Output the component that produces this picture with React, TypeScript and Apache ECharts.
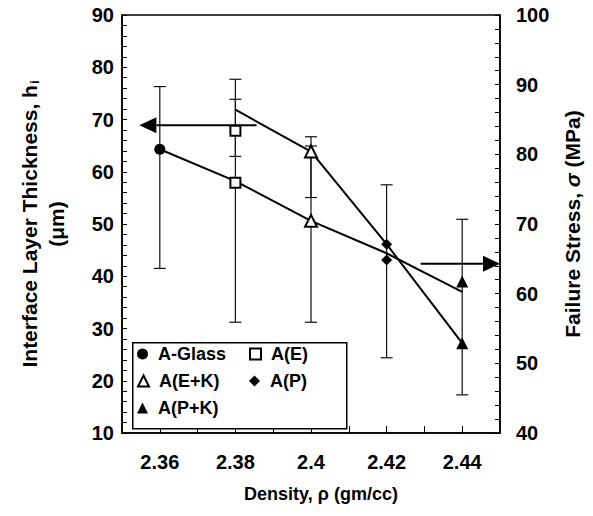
import { useEffect, useRef } from 'react';
import * as echarts from 'echarts';

// ---- data ----
const densities = [2.36, 2.38, 2.4, 2.42, 2.44];
const materials = ['A-Glass', 'A(E)', 'A(E+K)', 'A(P)', 'A(P+K)'];
const materialSymbols = ['circle', 'emptyRect', 'emptyTriangle', 'diamond', 'triangle'];
const thicknessPoints = [64.3, 57.9, 50.6, 43.1, 39.0];
const stressPoints: (number | null)[] = [null, 83.4, 80.4, 67.1, 52.9];

const thicknessLineX = [2.36, 2.38, 2.4, 2.42, 2.44];
const thicknessLineY = [64.3, 58.2, 50.6, 44.4, 37.0];
const stressLineX = [2.38, 2.4, 2.42, 2.44];
const stressLineY = [86.4, 80.4, 67.1, 52.9];

const thicknessErrX = [2.36, 2.38, 2.4, 2.42, 2.44];
const thicknessErrLow = [41.5, 31.2, 31.2, 24.4, 17.3];
const thicknessErrHigh = [76.3, 77.7, 66.7, 57.5, 50.9];
const stressErrX = [2.38, 2.4];
const stressErrLow = [79.7, 73.8];
const stressErrHigh = [87.9, 81.2];

const xTickValues = [2.36, 2.37, 2.38, 2.39, 2.4, 2.41, 2.42, 2.43, 2.44];
const xLabelValues = [2.36, 2.38, 2.4, 2.42, 2.44];

const thicknessArrow = [2.3856, 2.3546, 68.9]; // from x, tip x, y (left axis)
const stressArrow = [2.429, 2.45, 64.3]; // from x, tip x, y (right axis)

const FONT = 'Liberation Sans, Arial, Helvetica, sans-serif';

export default function App() {
  const ref = useRef<HTMLDivElement>(null);
  useEffect(() => {
    document.body.style.margin = '0';
    const chart = echarts.init(ref.current!, null, { renderer: 'svg' });

    const errRender = (params: any, api: any) => {
      const x = api.value(0);
      const lo = api.value(1);
      const hi = api.value(2);
      const t = api.coord([x, hi]);
      const b = api.coord([x, lo]);
      const w = 6;
      const st = { stroke: '#111', lineWidth: 1.2 };
      return {
        type: 'group',
        children: [
          { type: 'line', shape: { x1: t[0], y1: t[1], x2: b[0], y2: b[1] }, style: st },
          { type: 'line', shape: { x1: t[0] - w, y1: t[1], x2: t[0] + w, y2: t[1] }, style: st },
          { type: 'line', shape: { x1: b[0] - w, y1: b[1], x2: b[0] + w, y2: b[1] }, style: st },
        ],
      };
    };

    const arrowRender = (params: any, api: any) => {
      const from = api.value(0);
      const to = api.value(1);
      const y = api.value(2);
      const s = api.coord([from, y]);
      const tip = api.coord([to, y]);
      const dir = tip[0] > s[0] ? 1 : -1;
      const headLen = 17;
      const half = 8;
      const base = tip[0] - dir * headLen;
      return {
        type: 'group',
        children: [
          { type: 'line', shape: { x1: s[0], y1: s[1], x2: base, y2: s[1] }, style: { stroke: '#000', lineWidth: 2 } },
          {
            type: 'polygon',
            shape: { points: [[tip[0], tip[1]], [base, tip[1] - half], [base, tip[1] + half]] },
            style: { fill: '#000' },
          },
        ],
      };
    };

    const markerSeries: any[] = [];
    materials.forEach((m, i) => {
      const sym = materialSymbols[i];
      const size = sym === 'emptyRect' ? 10 : sym === 'triangle' || sym === 'emptyTriangle' ? 12 : 11;
      const common = {
        type: 'scatter',
        name: m,
        symbol: sym,
        symbolSize: size,
        itemStyle: { color: '#000', borderColor: '#000', borderWidth: sym.startsWith('empty') ? 1.3 : 0, opacity: 1 },
        z: 5,
      };
      markerSeries.push({ ...common, yAxisIndex: 0, data: [[densities[i], thicknessPoints[i]]] });
      if (stressPoints[i] != null) {
        markerSeries.push({ ...common, yAxisIndex: 1, data: [[densities[i], stressPoints[i]]] });
      }
    });

    const legendPos = [
      [137, 345],
      [249, 345],
      [137, 372],
      [249, 372],
      [137, 399],
    ];

    const tickLabel = { fontSize: 20, fontWeight: 'bold', color: '#000', fontFamily: FONT };
    const axisLineStyle = { color: '#000', width: 1.5 };

    chart.setOption({
      animation: false,
      grid: { left: 122, right: 93, top: 15, bottom: 83, show: true, borderColor: '#000', borderWidth: 1.5 },
      xAxis: {
        type: 'value',
        min: 2.35,
        max: 2.45,
        axisLine: { show: true, lineStyle: axisLineStyle },
        axisTick: { show: true, inside: true, length: 7, customValues: xTickValues, lineStyle: { color: '#000' } },
        axisLabel: { customValues: xLabelValues, margin: 19, ...tickLabel },
        splitLine: { show: false },
        name: 'Density, ρ (gm/cc)',
        nameLocation: 'middle',
        nameGap: 52,
        nameTextStyle: { fontSize: 18, fontWeight: 'bold', color: '#000', fontFamily: FONT, padding: [0, 0, 0, 20] },
      },
      yAxis: [
        {
          type: 'value',
          position: 'left',
          min: 10,
          max: 90,
          interval: 10,
          axisLine: { show: true, lineStyle: axisLineStyle },
          axisTick: { show: true, inside: true, length: 5, lineStyle: { color: '#000' } },
          minorTick: { show: true, splitNumber: 5, length: 5, lineStyle: { color: '#000' } },
          splitLine: { show: false },
          axisLabel: { margin: 8, ...tickLabel },
          name: '{a|Interface Layer Thickness, h}{s|i}\n{a|(μm)}',
          nameLocation: 'middle',
          nameRotate: 90,
          nameGap: 52,
          nameTextStyle: {
            rich: {
              a: { fontSize: 21, fontWeight: 'bold', color: '#000', fontFamily: FONT, lineHeight: 27 },
              s: { fontSize: 13, fontWeight: 'bold', color: '#000', fontFamily: FONT, lineHeight: 27, padding: [9, 0, 0, 1] },
            },
          },
        },
        {
          type: 'value',
          position: 'right',
          min: 40,
          max: 100,
          interval: 10,
          axisLine: { show: true, lineStyle: axisLineStyle },
          axisTick: { show: true, inside: true, length: 5, lineStyle: { color: '#000' } },
          minorTick: { show: true, splitNumber: 5, length: 5, lineStyle: { color: '#000' } },
          splitLine: { show: false },
          axisLabel: { margin: 16, ...tickLabel },
          name: '{a|Failure Stress, }{i|σ}{a| (MPa)}',
          nameLocation: 'middle',
          nameRotate: 90,
          nameGap: 62,
          nameTextStyle: {
            rich: {
              a: { fontSize: 21, fontWeight: 'bold', color: '#000', fontFamily: FONT },
              i: { fontSize: 21, fontWeight: 'bold', fontStyle: 'italic', color: '#000', fontFamily: FONT },
            },
          },
        },
      ],
      legend: materials.map((m, i) => ({
        data: [m],
        left: legendPos[i][0],
        top: legendPos[i][1],
        orient: 'horizontal',
        itemWidth: 11,
        itemHeight: 11,
        itemGap: 0,
        padding: 0,
        selectedMode: false,
        z: 10,
        textStyle: { fontSize: 18, fontWeight: 'bold', color: '#000', fontFamily: FONT, padding: [0, 0, 0, 5] },
      })),
      graphic: [
        {
          type: 'rect',
          left: 132,
          top: 342,
          z: 8,
          shape: { width: 214, height: 86 },
          style: { fill: '#fff', stroke: '#000', lineWidth: 1.5 },
        },
      ],
      series: [
        {
          type: 'line',
          name: 'thicknessTrend',
          yAxisIndex: 0,
          data: thicknessLineX.map((x, i) => [x, thicknessLineY[i]]),
          symbol: 'none',
          lineStyle: { color: '#000', width: 2 },
          z: 3,
        },
        {
          type: 'line',
          name: 'stressTrend',
          yAxisIndex: 1,
          data: stressLineX.map((x, i) => [x, stressLineY[i]]),
          symbol: 'none',
          lineStyle: { color: '#000', width: 2 },
          z: 3,
        },
        {
          type: 'custom',
          name: 'thicknessErr',
          yAxisIndex: 0,
          renderItem: errRender,
          encode: { x: 0, y: [1, 2] },
          data: thicknessErrX.map((x, i) => [x, thicknessErrLow[i], thicknessErrHigh[i]]),
          z: 2,
          clip: false,
        },
        {
          type: 'custom',
          name: 'stressErr',
          yAxisIndex: 1,
          renderItem: errRender,
          encode: { x: 0, y: [1, 2] },
          data: stressErrX.map((x, i) => [x, stressErrLow[i], stressErrHigh[i]]),
          z: 2,
          clip: false,
        },
        {
          type: 'custom',
          name: 'thicknessArrow',
          yAxisIndex: 0,
          renderItem: arrowRender,
          encode: { x: [0, 1], y: 2 },
          data: [thicknessArrow],
          z: 4,
          clip: false,
        },
        {
          type: 'custom',
          name: 'stressArrow',
          yAxisIndex: 1,
          renderItem: arrowRender,
          encode: { x: [0, 1], y: 2 },
          data: [stressArrow],
          z: 4,
          clip: false,
        },
        ...markerSeries,
      ],
    });
    return () => chart.dispose();
  }, []);
  return <div ref={ref} style={{ width: 593, height: 516 }} />;
}
